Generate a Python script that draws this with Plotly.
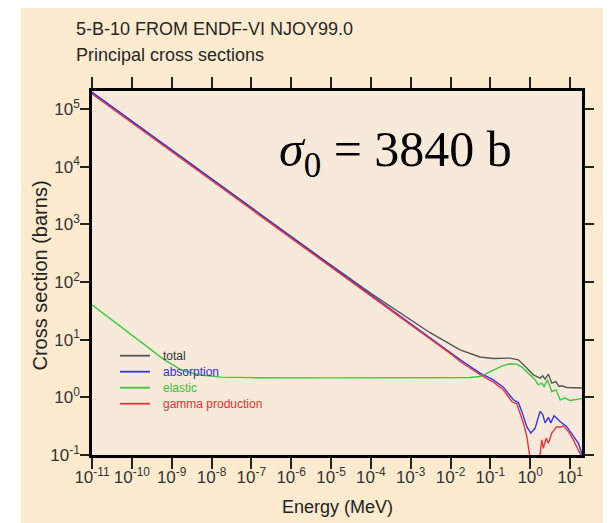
import plotly.graph_objects as go

# ---------------- data ----------------
E_total = [1e-11, 1e-10, 1e-9, 1e-8, 1e-7, 1e-6, 1e-5, 1e-4, 1e-3, 3e-3, 1e-2,
           0.01734, 0.0551, 0.1189, 0.3126, 0.5047, 0.8222, 1.202, 1.774, 2.070,
           2.366, 2.864, 3.491, 4.395, 5.321, 6.223, 8.318, 17.95, 20.0]
sig_total = [193040, 61025, 19306, 6103, 1932, 612, 195.2, 63.2, 21.5, 13.3, 8.3,
             6.65, 5.0, 4.7, 4.78, 4.47, 3.21, 2.45, 2.15, 2.36,
             2.07, 2.52, 1.76, 1.88, 1.54, 1.58, 1.48, 1.45, 1.45]

E_abs = [1e-11, 1e-10, 1e-9, 1e-8, 1e-7, 1e-6, 1e-5, 1e-4, 1e-3, 1e-2,
         0.01734, 0.0551, 0.1189, 0.2123, 0.3784, 0.5047, 0.6152, 0.8222, 1.035,
         1.327, 1.774, 2.070, 2.366, 2.864, 3.296, 3.981, 5.636, 8.318, 12.16,
         16.26, 18.66, 20.0]
sig_abs = [193000, 61000, 19300, 6100, 1930, 610, 193, 61, 19.3, 6.1,
           4.5, 2.62, 2.01, 1.50, 0.906, 0.81, 0.57, 0.31, 0.24,
           0.29, 0.57, 0.50, 0.36, 0.45, 0.36, 0.48, 0.38, 0.31, 0.21,
           0.16, 0.12, 0.10]

E_el = [1e-11, 2.477e-11, 7.89e-11, 2.512e-10, 6.59e-10, 1.722e-9, 4.53e-9,
        1.742e-8, 1e-7, 1e-5, 1e-3, 1e-2, 0.01734, 0.0316, 0.0551, 0.1189,
        0.1995, 0.3126, 0.4603, 0.631, 0.8222, 1.327, 1.607, 1.954, 2.234,
        2.704, 3.491, 4.477, 5.636, 7.534, 10.05, 17.95, 20.0]
sig_el = [40, 25, 13.8, 7.6, 4.47, 3.0, 2.46,
          2.24, 2.19, 2.17, 2.16, 2.15, 2.15, 2.2, 2.29, 3.0,
          3.5, 3.81, 3.76, 3.3, 2.80, 2.01, 1.65, 1.76, 1.54,
          2.01, 1.26, 1.35, 0.905, 0.97, 0.88, 0.93, 0.95]

E_gam = [1e-11, 1e-10, 1e-9, 1e-8, 1e-7, 1e-6, 1e-5, 1e-4, 1e-3, 1e-2,
         0.01734, 0.0551, 0.1189, 0.2123, 0.3451, 0.4603, 0.557, 0.6745, 0.8222,
         0.9016, 0.993, 1.259, 1.514, 1.774, 1.954, 2.148, 2.512, 2.864, 3.491,
         4.656, 5.636, 6.823, 9.12, 12.16, 16.26, 18.66, 20.0]
sig_gam = [181400, 57300, 18140, 5730, 1814, 573, 181, 57.3, 18.1, 5.73,
           4.17, 2.46, 1.83, 1.35, 0.845, 0.77, 0.53, 0.36, 0.21,
           0.123, 0.09, 0.085, 0.09, 0.10, 0.183, 0.13, 0.196, 0.16, 0.24,
           0.31, 0.30, 0.32, 0.255, 0.183, 0.123, 0.097, 0.09]

series_names = ["total", "absorption", "elastic", "gamma production"]
line_colors = ["#555555", "#3535ee", "#3cc83c", "#ee3535"]
text_colors = ["#333333", "#2d2de0", "#3cbf3c", "#e83030"]

x_tickvals = [10.0 ** p for p in range(-11, 2)]
x_ticktext = ["10<sup>%d</sup>" % p for p in range(-11, 2)]
y_tickvals = [10.0 ** p for p in range(-1, 6)]
y_ticktext = ["10<sup>%d</sup>" % p for p in range(-1, 6)]

# ---------------- layout geometry ----------------
# the page body has an 8px margin, so the figure is 8px smaller and
# positions below are given in page pixels and shifted by OFF.
OFF = 8
W, H = 611 - OFF, 523 - OFF
L, R, T, B = 92 - OFF, 29, 91 - OFF, 68
PW, PH = W - L - R, H - T - B


def px_x(x):
    return (x - OFF - L) / PW


def px_y(y):
    return (H - B - (y - OFF)) / PH


SANS = "Liberation Sans, Arial, sans-serif"

fig = go.Figure()
data = [(E_total, sig_total), (E_abs, sig_abs), (E_el, sig_el), (E_gam, sig_gam)]
for (ex, sy), nm, col in zip(data, series_names, line_colors):
    fig.add_trace(go.Scatter(x=ex, y=sy, mode="lines", name=nm,
                             line=dict(color=col, width=1.4),
                             showlegend=False))

axis_common = dict(type="log", showgrid=False, zeroline=False, showline=True,
                   linecolor="black", linewidth=2.5, mirror="ticks",
                   ticks="outside", tickcolor="#222222", tickwidth=1.5,
                   tickmode="array",
                   tickfont=dict(family=SANS, size=17, color="#333333"))

fig.update_xaxes(range=[-11, 1.301], tickvals=x_tickvals, ticktext=x_ticktext,
                 ticklen=11, ticklabelstandoff=-6, **axis_common)
fig.update_yaxes(range=[-1, 5.31], tickvals=y_tickvals, ticktext=y_ticktext,
                 ticklen=9, ticklabelstandoff=-3, **axis_common)

shapes = [
    # white margin strip left of the peach card
    dict(type="rect", xref="paper", yref="paper", x0=px_x(OFF), x1=px_x(21),
         y0=px_y(523), y1=px_y(OFF), fillcolor="white", line=dict(width=0)),
]

annotations = [
    dict(text="5-B-10 FROM ENDF-VI NJOY99.0", xref="paper", yref="paper",
         x=px_x(74), y=px_y(29.5), xanchor="left", yanchor="middle", showarrow=False,
         font=dict(family=SANS, size=18, color="#262626")),
    dict(text="Principal cross sections", xref="paper", yref="paper",
         x=px_x(74), y=px_y(55), xanchor="left", yanchor="middle", showarrow=False,
         font=dict(family=SANS, size=18, color="#262626")),
    dict(text="<i>σ</i><sub>0</sub> = 3840 b", xref="paper", yref="paper",
         x=px_x(277), y=px_y(153), xanchor="left", yanchor="middle", showarrow=False,
         font=dict(family="Liberation Serif, Times New Roman, serif", size=50, color="black")),
    dict(text="Energy (MeV)", xref="paper", yref="paper",
         x=px_x(337), y=px_y(507), xanchor="center", yanchor="middle", showarrow=False,
         font=dict(family=SANS, size=18, color="#222222")),
    dict(text="Cross section (barns)", xref="paper", yref="paper", textangle=-90,
         x=px_x(39.5), y=px_y(276), xanchor="center", yanchor="middle", showarrow=False,
         font=dict(family=SANS, size=20, color="#222222")),
]

legend_y = [355.7, 371.7, 387.7, 403.7]
for nm, lc, tc, ly in zip(series_names, line_colors, text_colors, legend_y):
    shapes.append(dict(type="line", xref="paper", yref="paper",
                       x0=px_x(120), x1=px_x(150), y0=px_y(ly), y1=px_y(ly),
                       line=dict(color=lc, width=1.8)))
    annotations.append(dict(text=nm, xref="paper", yref="paper",
                            x=px_x(161), y=px_y(ly), xanchor="left", yanchor="middle",
                            showarrow=False,
                            font=dict(family=SANS, size=12, color=tc)))

fig.update_layout(
    width=W, height=H,
    margin=dict(l=L, r=R, t=T, b=B, autoexpand=False),
    paper_bgcolor="#FDEBD0",
    plot_bgcolor="#F8EADA",
    shapes=shapes,
    annotations=annotations,
    showlegend=False,
)

fig.write_html("out.html")
